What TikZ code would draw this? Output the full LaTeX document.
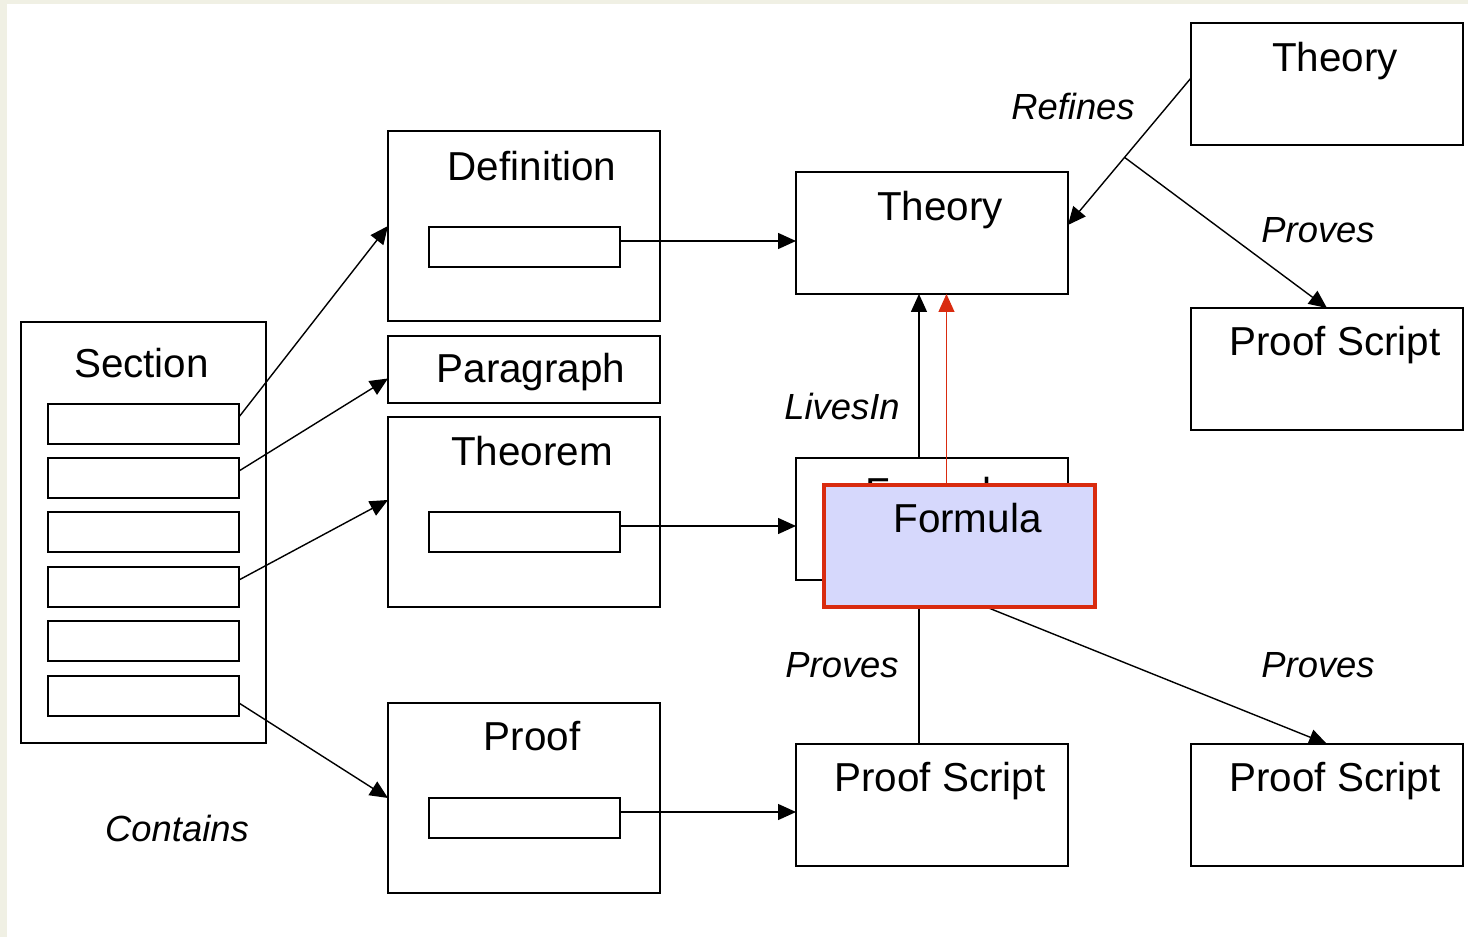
\documentclass[tikz,border=0pt]{standalone}
\usepackage{fontspec}
\setmainfont{Liberation Sans}
\usepackage{tikz}
\usetikzlibrary{positioning, calc, arrows.meta}
\usepackage{xcolor}
\definecolor{xcream}{HTML}{F0F0E4}
\definecolor{xred}{HTML}{D92B0F}
\definecolor{xlavender}{HTML}{D6D8FC}
\tikzset{
	box/.style={draw, line width=0.9pt, rectangle, inner sep=0pt, outer sep=0pt, minimum width=5.44cm, anchor=north west},
	tallbox/.style={box, minimum height=3.8cm},
	shortbox/.style={box, minimum height=2.44cm},
	slotbox/.style={box, minimum width=3.82cm, minimum height=0.8cm},
	title/.style={anchor=base, inner sep=0pt, font=\fontsize{23}{27}\selectfont},
	relation/.style={anchor=base, inner sep=0pt, font=\fontsize{20.7}{24}\selectfont\itshape},
	arr/.style={-{Triangle[length=0.36cm, width=0.32cm]}, line width=0.8pt},
}

\begin{document}
\begin{tikzpicture}[x=0.02cm, y=-0.02cm]
		\useasboundingbox (0,0) rectangle (1468,937);
		\fill[xcream] (0,0) rectangle (1468,937);
		\fill[white] (7,4) rectangle (1468,937);

		\node[box, minimum width=4.9cm, minimum height=8.42cm] (section) at (21,322) {};
		\node[title] (sectionT) at ($(section.north)+(-2,55)$) {Section};
		\foreach \i/\y in {1/404, 2/458, 3/512, 4/567, 5/621, 6/676}
			\node[slotbox] (s\i) at (48,\y) {};

		\node[tallbox] (definition) at (388,131) {};
		\node[title] (definitionT) at ($(definition.north)+(8,49)$) {Definition};
		\node[slotbox] (defSlot) at (429,227) {};
		\node[box, minimum height=1.34cm] (paragraph) at (388,336) {};
		\node[title] (paragraphT) at ($(paragraph.north)+(7,46)$) {Paragraph};
		\node[tallbox] (theorem) at (388,417) {};
		\node[title] (theoremT) at ($(theorem.north)+(8,48)$) {Theorem};
		\node[slotbox] (thmSlot) at (429,512) {};
		\node[tallbox] (proof) at (388,703) {};
		\node[title] (proofT) at ($(proof.north)+(8,47)$) {Proof};
		\node[slotbox] (proofSlot) at (429,798) {};

		\node[shortbox] (theory) at (796,172) {};
		\node[title] (theoryT) at ($(theory.north)+(8,48)$) {Theory};
		\node[shortbox] (formulaBack) at (796,458) {};
		\node[title] (formulaBackT) at ($(formulaBack.north)+(8,48)$) {Formula};
		\node[shortbox] (proofScript) at (796,744) {};
		\node[title] (proofScriptT) at ($(proofScript.north)+(8,47)$) {Proof Script};
		\node[shortbox] (theoryTop) at (1191,23) {};
		\node[title] (theoryTopT) at ($(theoryTop.north)+(8,48)$) {Theory};
		\node[shortbox] (proofScriptR) at (1191,308) {};
		\node[title] (proofScriptRT) at ($(proofScriptR.north)+(8,47)$) {Proof Script};
		\node[shortbox] (proofScriptB) at (1191,744) {};
		\node[title] (proofScriptBT) at ($(proofScriptB.north)+(8,47)$) {Proof Script};

		\draw[arr] ($(s1.east)+(0,-7)$) -- (definition.west);
		\draw[arr] ($(s2.east)+(0,-7)$) -- ($(paragraph.west)+(0,9)$);
		\draw[arr] ($(s4.east)+(0,-7)$) -- ($(theorem.west)+(0,-12)$);
		\draw[arr] ($(s6.east)+(0,7)$) -- (proof.west);
		\draw[arr] ($(defSlot.east)+(0,-6)$) coordinate (d) -- (d -| theory.west);
		\draw[arr] ($(thmSlot.east)+(0,-6)$) coordinate (t) -- (t -| formulaBack.west);
		\draw[arr] ($(proofSlot.east)+(0,-6)$) coordinate (p) -- (p -| proofScript.west);

		\draw[arr] ($(formulaBack.north)+(-13,0)$) coordinate (f) -- (f |- theory.south);
		\draw[line width=0.8pt] ($(formulaBack.south)+(-13,0)$) coordinate (g) -- (g |- proofScript.north);
		\draw[arr] (g) -- (proofScriptB.north);
		\draw[arr] ($(theoryTop.west)+(0,-6)$) -- coordinate[pos=0.54] (branch) ($(theory.east)+(0,-8)$);
		\draw[arr] (branch) -- (proofScriptR.north);

		\node[shortbox, minimum width=5.42cm, fill=xlavender, draw=xred, line width=2.3pt] (formula) at (824,485) {};
		\node[title] (formulaT) at ($(formula.north)+(8,47)$) {Formula};
		\draw[arr, xred, line width=0.6pt] ($(formula.north)+(-13,0)$) coordinate (h) -- (h |- theory.south);

		\node[relation] (refinesL) at (1073,119) {Refines};
		\node[relation] (provesA) at (1318,242) {Proves};
		\node[relation] (livesInL) at (842,419) {LivesIn};
		\node[relation] (provesB) at (842,677) {Proves};
		\node[relation] (provesC) at (1318,677) {Proves};
		\node[relation] (containsL) at (177,841) {Contains};
	\end{tikzpicture}
\end{document}
